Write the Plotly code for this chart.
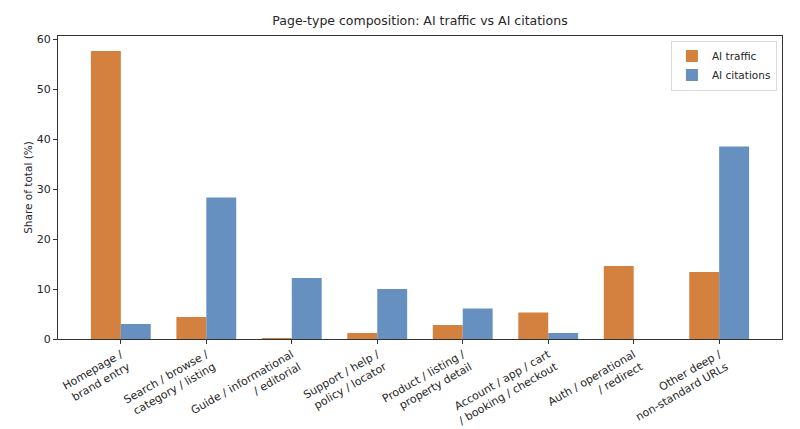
import plotly.graph_objects as go

categories = [
    "Homepage /<br>brand entry",
    "Search / browse /<br>category / listing",
    "Guide / informational<br>/ editorial",
    "Support / help /<br>policy / locator",
    "Product / listing /<br>property detail",
    "Account / app / cart<br>/ booking / checkout",
    "Auth / operational<br>/ redirect",
    "Other deep /<br>non-standard URLs",
]
ai_traffic = [57.6, 4.4, 0.2, 1.2, 2.8, 5.3, 14.6, 13.4]
ai_citations = [3.0, 28.3, 12.2, 10.0, 6.1, 1.2, 0.0, 38.5]
y_ticks = [0, 10, 20, 30, 40, 50, 60]

FONT = "DejaVu Sans"
fig = go.Figure()
fig.add_trace(go.Bar(x=categories, y=ai_traffic, name="AI traffic",
                     marker=dict(color="#D4803F", line=dict(width=0))))
fig.add_trace(go.Bar(x=categories, y=ai_citations, name="AI citations",
                     marker=dict(color="#6590C0", line=dict(width=0))))

fig.update_layout(
    width=800, height=429,
    margin=dict(l=58, r=18, t=36, b=90, autoexpand=False),
    paper_bgcolor="white", plot_bgcolor="white",
    font=dict(family=FONT, size=10, color="#262626"),
    barmode="group", bargap=0.3, bargroupgap=0,
    title=dict(text="Page-type composition: AI traffic vs AI citations",
               x=0.5, xref="paper", xanchor="center", y=0.953, yanchor="middle",
               font=dict(family=FONT, size=12.5, color="#262626")),
    legend=dict(x=0.993, y=0.985, xanchor="right", yanchor="top",
                bgcolor="rgba(255,255,255,0.8)", bordercolor="#d9d9d9", borderwidth=1,
                font=dict(size=10.5), tracegroupgap=0, itemwidth=30),
    showlegend=True,
)
fig.update_xaxes(
    type="category", range=[-0.735, 7.735], automargin=False,
    tickangle=-30, ticks="outside", ticklen=4, tickcolor="#333",
    showline=True, linecolor="#333", linewidth=1, mirror=True,
    showgrid=False, tickfont=dict(size=11),
)
fig.update_yaxes(
    range=[0, 60.6], tickvals=y_ticks, ticks="outside", ticklen=4, tickcolor="#333",
    showline=True, linecolor="#333", linewidth=1, mirror=True, automargin=False,
    showgrid=False, zeroline=False, tickfont=dict(size=11),
    title=dict(text="Share of total (%)", font=dict(size=10.5), standoff=2),
)
fig.write_html("out.html")
